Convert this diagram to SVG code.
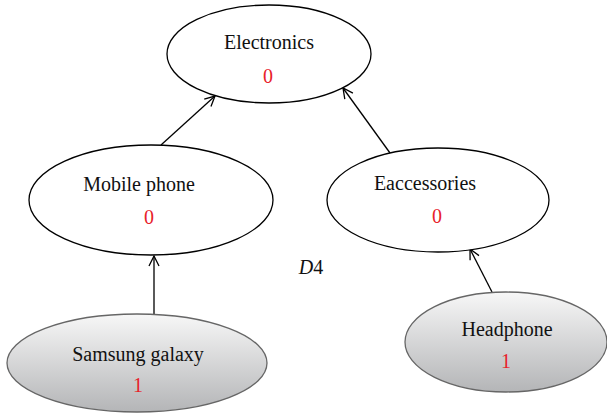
<svg xmlns="http://www.w3.org/2000/svg" width="607" height="415" viewBox="0 0 607 415">
  <style>
    .node { fill: #ffffff; stroke: #000000; stroke-width: 1.3; }
    .leaf { fill: url(#leafFill); stroke: #666666; stroke-width: 1.3; }
    .label { font-family: "Liberation Serif", "DejaVu Serif", serif; font-size: 20px; fill: #111111; text-anchor: middle; }
    .count { font-family: "Liberation Serif", "DejaVu Serif", serif; font-size: 20px; fill: #e8222a; text-anchor: middle; }
    .edge { fill: none; stroke: #000000; stroke-width: 1.3; marker-end: url(#openArrow); }
  </style>
  <defs>
    <linearGradient id="leafFill" x1="0" y1="0" x2="0" y2="1">
      <stop offset="0" stop-color="#f7f7f7"/>
      <stop offset="1" stop-color="#b4b5b7"/>
    </linearGradient>
    <marker id="openArrow" viewBox="0 0 12 12" refX="11" refY="6" markerWidth="12" markerHeight="12" markerUnits="userSpaceOnUse" orient="auto">
      <path d="M1,1 L11,6 L1,11" fill="none" stroke="#000000" stroke-width="1.3"/>
    </marker>
  </defs>

  <g id="connectors">
    <line class="edge" x1="161" y1="145" x2="215" y2="96"/>
    <line class="edge" x1="390" y1="153" x2="343" y2="88"/>
    <line class="edge" x1="154" y1="314" x2="154" y2="256"/>
    <line class="edge" x1="492" y1="292" x2="470" y2="249"/>
  </g>

  <g id="electronics">
    <ellipse class="node" cx="269" cy="54" rx="102" ry="49"/>
    <text class="label" x="269" y="49">Electronics</text>
    <text class="count" x="268" y="83">0</text>
  </g>

  <g id="mobile-phone">
    <ellipse class="node" cx="151" cy="200" rx="122" ry="55"/>
    <text class="label" x="139" y="191">Mobile phone</text>
    <text class="count" x="149" y="224">0</text>
  </g>

  <g id="eaccessories">
    <ellipse class="node" cx="438" cy="200" rx="111" ry="52"/>
    <text class="label" x="425" y="190">Eaccessories</text>
    <text class="count" x="437" y="223">0</text>
  </g>

  <g id="samsung-galaxy">
    <ellipse class="leaf" cx="137" cy="363" rx="130" ry="49"/>
    <text class="label" x="138" y="361">Samsung galaxy</text>
    <text class="count" x="138" y="392">1</text>
  </g>

  <g id="headphone">
    <ellipse class="leaf" cx="506" cy="342" rx="101" ry="50"/>
    <text class="label" x="507" y="336">Headphone</text>
    <text class="count" x="506" y="368">1</text>
  </g>

  <g id="caption">
    <text class="label" x="311" y="274"><tspan font-style="italic">D</tspan>4</text>
  </g>
</svg>
